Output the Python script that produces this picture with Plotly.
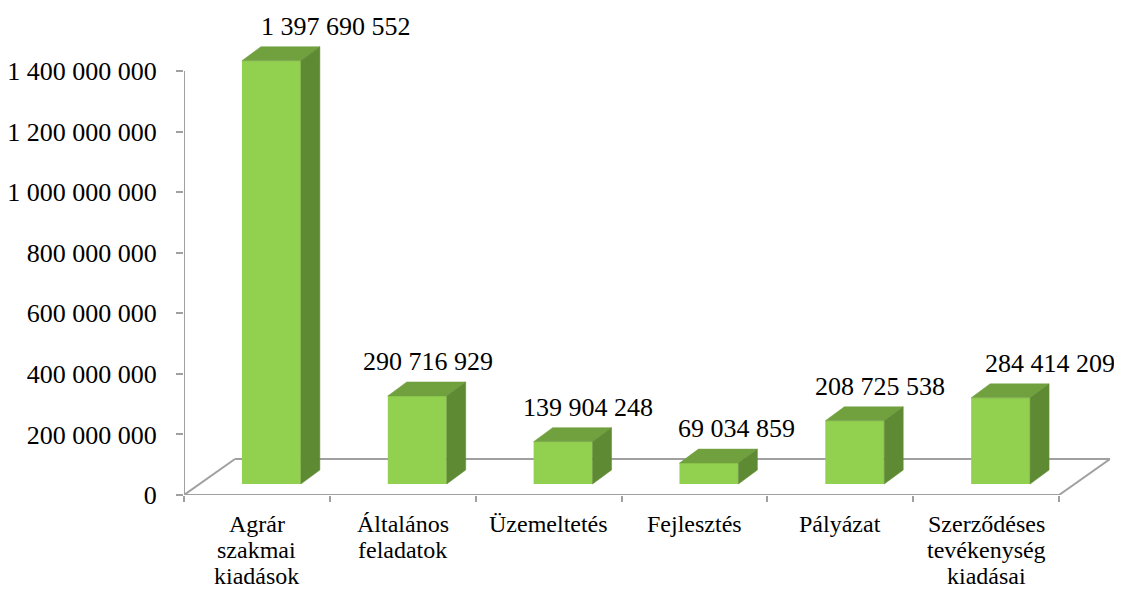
import plotly.graph_objects as go

categories = [
    ["Agrár", "szakmai", "kiadások"],
    ["Általános", "feladatok"],
    ["Üzemeltetés"],
    ["Fejlesztés"],
    ["Pályázat"],
    ["Szerződéses", "tevékenység", "kiadásai"],
]
values = [1397690552, 290716929, 139904248, 69034859, 208725538, 284414209]
y_ticks = [0, 200000000, 400000000, 600000000, 800000000, 1000000000, 1200000000, 1400000000]

_FONT = "Liberation Serif"
FRONT = "#92D050"
TOP = "#71A03F"
SIDE = "#5E8A33"
GRID = "#A0A0A0"


def fmt(v):
    return f"{v:,}".replace(",", " ")


# page body has an 8px margin, so the figure is drawn 8px smaller and the
# plot box is placed in figure coordinates (window px - 8)
W, H = 1114, 581
PX_CAT = 146.0                # px per category
Y_PER_PX = 200e6 / 60.57      # value units per px
PLOT_L, PLOT_R, PLOT_T, PLOT_B = 176, 1102, 2, 487


def px_x(p):
    return p / PX_CAT


def px_y(p):
    return p * Y_PER_PX


face_dx, face_dy = px_x(14.5), px_y(11)     # bar front face set back from floor front
bar_w = px_x(59)
depth_dx, depth_dy = px_x(19), px_y(14)      # bar depth
floor_dx, floor_dy = px_x(51), px_y(36)      # floor depth
label_shift = [55, 1, 15, 18, 16, 40]

n = len(values)
x_lo, x_hi = -0.5, n - 0.5

fig = go.Figure()

xs = [i + face_dx for i in range(n)]
base = face_dy
fig.add_trace(go.Bar(
    x=xs, y=values, base=[base] * n, width=bar_w,
    marker=dict(color=FRONT, line=dict(width=0)),
    hoverinfo="skip",
))

for i, v in enumerate(values):
    xl = xs[i] - bar_w / 2
    xr = xs[i] + bar_w / 2
    yb = base
    yt = base + v
    fig.add_trace(go.Scatter(
        x=[xl, xr, xr + depth_dx, xl + depth_dx, xl],
        y=[yt, yt, yt + depth_dy, yt + depth_dy, yt],
        mode="lines", fill="toself", fillcolor=TOP,
        line=dict(color=TOP, width=0.5), hoverinfo="skip",
    ))
    fig.add_trace(go.Scatter(
        x=[xr, xr, xr + depth_dx, xr + depth_dx, xr],
        y=[yb, yt, yt + depth_dy, yb + depth_dy, yb],
        mode="lines", fill="toself", fillcolor=SIDE,
        line=dict(color=SIDE, width=0.5), hoverinfo="skip",
    ))
    fig.add_annotation(
        x=xs[i] + depth_dx / 2, y=yt + depth_dy, text=fmt(v),
        showarrow=False, yanchor="bottom", xshift=label_shift[i], yshift=4,
        font=dict(family=_FONT, size=26, color="black"),
    )

# category labels, one line each to keep tight line spacing
for i, lines in enumerate(categories):
    for k, line in enumerate(lines):
        fig.add_annotation(
            x=i, y=0, text=line, showarrow=False, yanchor="top",
            yshift=-14 - 26 * k,
            font=dict(family=_FONT, size=24, color="black"),
        )

line = dict(color=GRID, width=2)
shapes = [
    dict(type="line", x0=x_lo, y0=0, x1=x_lo, y1=y_ticks[-1], line=line, layer="below"),
    dict(type="line", x0=x_lo, y0=0, x1=x_hi, y1=0, line=line, layer="below"),
    dict(type="line", x0=x_lo, y0=0, x1=x_lo + floor_dx, y1=floor_dy, line=line, layer="below"),
    dict(type="line", x0=x_lo + floor_dx, y0=floor_dy, x1=x_hi + floor_dx, y1=floor_dy, line=line, layer="below"),
    dict(type="line", x0=x_hi, y0=0, x1=x_hi + floor_dx, y1=floor_dy, line=line, layer="below"),
]

fig.update_layout(
    width=W, height=H,
    margin=dict(l=PLOT_L, r=W - PLOT_R, t=PLOT_T, b=H - PLOT_B, pad=0, autoexpand=False),
    paper_bgcolor="white", plot_bgcolor="white",
    showlegend=False,
    shapes=shapes,
    font=dict(family=_FONT, color="black"),
)
fig.update_xaxes(
    range=[x_lo, x_hi + floor_dx],
    tickvals=[i - 0.5 for i in range(n + 1)],
    showticklabels=False, ticks="outside", ticklen=6, tickwidth=2, tickcolor=GRID,
    showgrid=False, zeroline=False, showline=False, fixedrange=True, automargin=False,
)
fig.update_yaxes(
    range=[0, px_y(PLOT_B - PLOT_T)],
    tickvals=y_ticks, ticktext=[fmt(t) for t in y_ticks],
    ticks="outside", ticklen=7, tickwidth=2, tickcolor=GRID,
    ticklabelstandoff=14,
    tickfont=dict(family=_FONT, size=26, color="black"),
    showgrid=False, zeroline=False, showline=False, fixedrange=True, automargin=False,
)

fig.write_html("out.html")
